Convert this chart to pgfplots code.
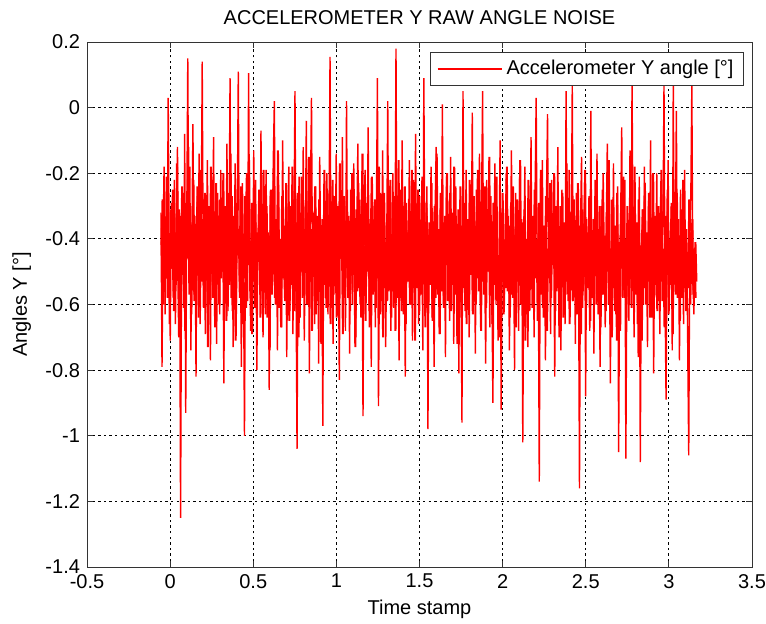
\documentclass[border=0pt]{standalone}
\usepackage{fontspec}
\setmainfont{Liberation Sans}
\usepackage{pgfplots}
\usepackage{pgfplotstable}
\pgfplotsset{compat=1.18}
\pgfplotstableread[row sep=\\]{
y \\
-0.32 \\ -0.79 \\ -0.41 \\ -0.18 \\ -0.63 \\ -0.35 \\ -0.52 \\ 0.03 \\ -0.47 \\ -0.71 \\ -0.29 \\ -0.44 \\ -0.58 \\ -0.22 \\ -0.66 \\ -0.39 \\ -0.12 \\ -0.55 \\ -0.31 \\ -1.25 \\
-0.43 \\ -0.26 \\ -0.61 \\ -0.08 \\ -0.93 \\ -0.35 \\ 0.15 \\ -0.52 \\ -0.18 \\ -0.74 \\ -0.40 \\ -0.05 \\ -0.57 \\ -0.33 \\ -0.82 \\ -0.24 \\ -0.49 \\ -0.14 \\ -0.66 \\ -0.37 \\
0.14 \\ -0.51 \\ -0.28 \\ -0.69 \\ -0.42 \\ -0.16 \\ -0.60 \\ -0.34 \\ -0.77 \\ -0.21 \\ -0.47 \\ -0.09 \\ -0.56 \\ -0.38 \\ -0.72 \\ -0.26 \\ -0.45 \\ -0.63 \\ -0.19 \\ -0.50 \\
-0.36 \\ -0.84 \\ -0.30 \\ -0.54 \\ -0.11 \\ -0.62 \\ -0.41 \\ 0.09 \\ -0.58 \\ -0.27 \\ -0.73 \\ -0.44 \\ -0.17 \\ -0.65 \\ -0.33 \\ 0.11 \\ -0.53 \\ -0.40 \\ -0.79 \\ -0.23 \\
-0.48 \\ -1.00 \\ -0.37 \\ -0.20 \\ -0.59 \\ 0.105 \\ -0.46 \\ -0.68 \\ -0.29 \\ -0.52 \\ -0.13 \\ -0.61 \\ -0.35 \\ -0.80 \\ -0.42 \\ -0.25 \\ -0.57 \\ -0.07 \\ -0.49 \\ -0.70 \\
-0.31 \\ -0.45 \\ -0.19 \\ -0.64 \\ -0.38 \\ -0.86 \\ -0.27 \\ -0.55 \\ -0.41 \\ -0.15 \\ 0.02 \\ -0.60 \\ -0.34 \\ -0.74 \\ -0.22 \\ -0.50 \\ -0.43 \\ -0.67 \\ -0.10 \\ -0.46 \\
-0.58 \\ -0.30 \\ -0.76 \\ -0.39 \\ -0.18 \\ -0.62 \\ -0.47 \\ -0.26 \\ -0.69 \\ -0.35 \\ 0.05 \\ -0.53 \\ -1.04 \\ -0.40 \\ -0.21 \\ -0.64 \\ -0.32 \\ -0.49 \\ -0.12 \\ -0.71 \\
-0.44 \\ -0.04 \\ -0.57 \\ -0.36 \\ -0.81 \\ -0.28 \\ 0.03 \\ -0.51 \\ -0.42 \\ -0.66 \\ -0.24 \\ -0.59 \\ -0.33 \\ -0.78 \\ -0.15 \\ -0.48 \\ -0.37 \\ -0.97 \\ -0.29 \\ -0.54 \\
-0.41 \\ -0.20 \\ -0.63 \\ -0.35 \\ 0.155 \\ -0.56 \\ -0.45 \\ -0.72 \\ -0.27 \\ -0.50 \\ -0.14 \\ -0.61 \\ -0.38 \\ -0.83 \\ -0.31 \\ -0.46 \\ -0.09 \\ -0.58 \\ -0.40 \\ -0.68 \\
0.02 \\ -0.52 \\ -0.33 \\ -0.75 \\ -0.25 \\ -0.47 \\ -0.60 \\ -0.17 \\ -0.43 \\ -0.70 \\ -0.36 \\ -0.11 \\ -0.55 \\ -0.28 \\ -0.64 \\ -0.39 \\ -0.94 \\ -0.32 \\ -0.19 \\ -0.57 \\
-0.44 \\ -0.06 \\ -0.62 \\ -0.37 \\ -0.79 \\ -0.23 \\ -0.51 \\ -0.41 \\ -0.67 \\ -0.30 \\ 0.09 \\ -0.91 \\ -0.46 \\ -0.26 \\ -0.59 \\ -0.13 \\ -0.53 \\ -0.35 \\ -0.73 \\ -0.42 \\
0.02 \\ -0.56 \\ -0.31 \\ -0.68 \\ -0.40 \\ -0.20 \\ -0.61 \\ -0.47 \\ 0.18 \\ -0.58 \\ -0.34 \\ -0.77 \\ -0.25 \\ -0.49 \\ -0.10 \\ -0.63 \\ -0.38 \\ -0.82 \\ -0.29 \\ -0.52 \\
-0.43 \\ -0.16 \\ -0.60 \\ -0.36 \\ -0.71 \\ -0.22 \\ -0.48 \\ -0.08 \\ -0.55 \\ -0.40 \\ -0.66 \\ -0.27 \\ -0.50 \\ -0.33 \\ -0.74 \\ 0.09 \\ -0.45 \\ -0.61 \\ -0.24 \\ -0.98 \\
-0.37 \\ -0.52 \\ -0.18 \\ -0.64 \\ -0.41 \\ -0.79 \\ -0.30 \\ -0.12 \\ -0.57 \\ -0.44 \\ -0.69 \\ -0.26 \\ -0.53 \\ 0.01 \\ -0.60 \\ -0.35 \\ -0.76 \\ -0.21 \\ -0.47 \\ -0.39 \\
-0.65 \\ -0.15 \\ -0.54 \\ -0.32 \\ -0.72 \\ -0.43 \\ -0.24 \\ -0.59 \\ -0.37 \\ -0.81 \\ -0.28 \\ -0.50 \\ -0.96 \\ 0.05 \\ -0.46 \\ -0.62 \\ -0.19 \\ -0.55 \\ -0.40 \\ -0.70 \\
-0.33 \\ -0.48 \\ -0.015 \\ -0.58 \\ -0.36 \\ -0.75 \\ -0.25 \\ -0.52 \\ -0.42 \\ -0.14 \\ -0.63 \\ -0.30 \\ 0.05 \\ -0.57 \\ -0.45 \\ -0.78 \\ -0.22 \\ -0.49 \\ -0.38 \\ -0.67 \\
-0.27 \\ -0.54 \\ -0.90 \\ -0.41 \\ -0.17 \\ -0.60 \\ -0.35 \\ -0.71 \\ -0.44 \\ -0.10 \\ -0.92 \\ -0.48 \\ -0.29 \\ -0.62 \\ -0.39 \\ -0.20 \\ -0.56 \\ -0.33 \\ -0.74 \\ -0.46 \\
-0.13 \\ -0.58 \\ -0.37 \\ -0.80 \\ -0.26 \\ -0.51 \\ -0.42 \\ -0.68 \\ -0.21 \\ -0.55 \\ -0.34 \\ -1.02 \\ -0.45 \\ -0.18 \\ -0.63 \\ -0.40 \\ -0.73 \\ -0.28 \\ -0.50 \\ -0.09 \\
-0.61 \\ -0.38 \\ -0.70 \\ -0.24 \\ 0.03 \\ -0.53 \\ -0.43 \\ -1.14 \\ -0.31 \\ -0.57 \\ -0.16 \\ -0.64 \\ -0.36 \\ -0.77 \\ -0.27 \\ -0.02 \\ -0.52 \\ -0.45 \\ -0.69 \\ -0.22 \\
-0.48 \\ -0.39 \\ -0.82 \\ -0.30 \\ -0.56 \\ -0.12 \\ -0.62 \\ -0.41 \\ -0.74 \\ -0.25 \\ -0.51 \\ -0.35 \\ -0.66 \\ 0.05 \\ -0.47 \\ -0.59 \\ -0.19 \\ -0.54 \\ -0.42 \\ 0.07 \\
-0.58 \\ -0.33 \\ -0.72 \\ -0.26 \\ -0.49 \\ -0.40 \\ -1.16 \\ -0.37 \\ -0.15 \\ -0.61 \\ -0.44 \\ -0.23 \\ -0.88 \\ -0.34 \\ -0.55 \\ -0.46 \\ -0.68 \\ -0.01 \\ -0.52 \\ -0.38 \\
-0.75 \\ -0.27 \\ -0.50 \\ -0.14 \\ -0.63 \\ -0.41 \\ -0.79 \\ -0.30 \\ -0.57 \\ -0.20 \\ -0.45 \\ -0.67 \\ -0.36 \\ -0.11 \\ -0.60 \\ -0.43 \\ -0.84 \\ -0.28 \\ -0.53 \\ -0.17 \\
-0.62 \\ -0.39 \\ -0.71 \\ -0.24 \\ -1.05 \\ -0.46 \\ -0.32 \\ -0.06 \\ -0.58 \\ -0.41 \\ -0.22 \\ -1.07 \\ -0.49 \\ -0.35 \\ -0.65 \\ -0.13 \\ -0.55 \\ 0.08 \\ -0.44 \\ -0.70 \\
-0.29 \\ -0.52 \\ -0.37 \\ -0.76 \\ -0.21 \\ -1.08 \\ -0.47 \\ -0.31 \\ -0.60 \\ -0.18 \\ -0.54 \\ -0.42 \\ -0.73 \\ -0.26 \\ -0.50 \\ -0.10 \\ -0.64 \\ -0.38 \\ -0.81 \\ -0.33 \\
-0.48 \\ -0.20 \\ -0.59 \\ -0.43 \\ -0.69 \\ -0.27 \\ -0.53 \\ -0.36 \\ 0.07 \\ -0.57 \\ -0.89 \\ -0.40 \\ -0.16 \\ -0.62 \\ -0.45 \\ -0.30 \\ -0.74 \\ 0.08 \\ -0.51 \\ -0.39 \\
-0.01 \\ -0.58 \\ -0.34 \\ -0.77 \\ -0.25 \\ -0.49 \\ -0.43 \\ -0.66 \\ -0.19 \\ -0.55 \\ -0.37 \\ -0.72 \\ -1.06 \\ -0.41 \\ -0.28 \\ 0.07 \\ -0.52 \\ -0.63 \\ -0.46 \\ -0.58 \\
}\noisetable
\pgfplotstableread[row sep=\\]{
y \\
-0.45 \\ -0.28 \\ -0.60 \\ -0.36 \\ -0.52 \\ -0.21 \\ -0.58 \\ -0.40 \\ -0.66 \\ -0.31 \\ -0.49 \\ -0.25 \\ -0.62 \\ -0.38 \\ -0.54 \\ -0.17 \\ -0.47 \\ -0.70 \\ -0.33 \\ -0.56 \\
-0.24 \\ -0.51 \\ -0.39 \\ -0.68 \\ -0.29 \\ -0.46 \\ -0.12 \\ -0.57 \\ -0.35 \\ -0.63 \\ -0.42 \\ -0.22 \\ -0.59 \\ -0.37 \\ -0.50 \\ -0.27 \\ -0.64 \\ -0.41 \\ -0.19 \\ -0.53 \\
-0.34 \\ -0.61 \\ -0.26 \\ -0.48 \\ -0.40 \\ -0.73 \\ -0.30 \\ -0.55 \\ -0.18 \\ -0.44 \\ -0.58 \\ -0.32 \\ -0.67 \\ -0.23 \\ -0.49 \\ -0.38 \\ -0.60 \\ -0.28 \\ -0.52 \\ -0.43 \\
-0.20 \\ -0.57 \\ -0.36 \\ -0.65 \\ -0.41 \\ -0.26 \\ -0.54 \\ -0.14 \\ -0.47 \\ -0.62 \\ -0.33 \\ -0.50 \\ -0.71 \\ -0.29 \\ -0.45 \\ -0.37 \\ -0.58 \\ -0.24 \\ -0.66 \\ -0.39 \\
-0.52 \\ -0.27 \\ -0.61 \\ -0.35 \\ -0.48 \\ -0.16 \\ -0.56 \\ -0.42 \\ -0.69 \\ -0.31 \\ -0.53 \\ -0.22 \\ -0.60 \\ -0.38 \\ -0.47 \\ -0.28 \\ -0.64 \\ -0.36 \\ -0.55 \\ -0.19 \\
-0.44 \\ -0.63 \\ -0.30 \\ -0.51 \\ -0.39 \\ -0.74 \\ -0.25 \\ -0.57 \\ -0.43 \\ -0.20 \\ -0.58 \\ -0.34 \\ -0.49 \\ -0.13 \\ -0.61 \\ -0.40 \\ -0.67 \\ -0.27 \\ -0.52 \\ -0.36 \\
-0.59 \\ -0.23 \\ -0.46 \\ -0.38 \\ -0.65 \\ -0.30 \\ -0.54 \\ -0.18 \\ -0.48 \\ -0.62 \\ -0.35 \\ -0.56 \\ -0.26 \\ -0.70 \\ -0.41 \\ -0.50 \\ -0.21 \\ -0.58 \\ -0.37 \\ -0.45 \\
-0.29 \\ -0.60 \\ -0.42 \\ -0.15 \\ -0.53 \\ -0.37 \\ -0.68 \\ -0.32 \\ -0.47 \\ -0.24 \\ -0.63 \\ -0.40 \\ -0.55 \\ -0.28 \\ -0.49 \\ -0.72 \\ -0.34 \\ -0.58 \\ -0.19 \\ -0.44 \\
-0.61 \\ -0.36 \\ -0.52 \\ -0.26 \\ -0.66 \\ -0.41 \\ -0.22 \\ -0.57 \\ -0.33 \\ -0.48 \\ -0.64 \\ -0.30 \\ -0.54 \\ -0.17 \\ -0.46 \\ -0.39 \\ -0.69 \\ -0.27 \\ -0.55 \\ -0.43 \\
-0.25 \\ -0.58 \\ -0.35 \\ -0.62 \\ -0.44 \\ -0.20 \\ -0.51 \\ -0.38 \\ -0.73 \\ -0.31 \\ -0.56 \\ -0.23 \\ -0.47 \\ -0.60 \\ -0.36 \\ -0.14 \\ -0.53 \\ -0.42 \\ -0.65 \\ -0.29 \\
-0.50 \\ -0.34 \\ -0.67 \\ -0.40 \\ -0.21 \\ -0.57 \\ -0.45 \\ -0.28 \\ -0.61 \\ -0.37 \\ -0.52 \\ -0.18 \\ -0.63 \\ -0.33 \\ -0.48 \\ -0.70 \\ -0.26 \\ -0.55 \\ -0.41 \\ -0.59 \\
-0.31 \\ -0.46 \\ -0.22 \\ -0.64 \\ -0.39 \\ -0.56 \\ -0.27 \\ -0.68 \\ -0.35 \\ -0.50 \\ -0.16 \\ -0.58 \\ -0.43 \\ -0.62 \\ -0.30 \\ -0.47 \\ -0.24 \\ -0.66 \\ -0.38 \\ -0.53 \\
-0.28 \\ -0.60 \\ -0.41 \\ -0.19 \\ -0.55 \\ -0.36 \\ -0.71 \\ -0.32 \\ -0.49 \\ -0.25 \\ -0.63 \\ -0.44 \\ -0.57 \\ -0.21 \\ -0.52 \\ -0.39 \\ -0.67 \\ -0.29 \\ -0.46 \\ -0.60 \\
-0.35 \\ -0.54 \\ -0.23 \\ -0.65 \\ -0.42 \\ -0.30 \\ -0.58 \\ -0.14 \\ -0.50 \\ -0.37 \\ -0.69 \\ -0.27 \\ -0.56 \\ -0.40 \\ -0.61 \\ -0.33 \\ -0.48 \\ -0.20 \\ -0.59 \\ -0.44 \\
-0.26 \\ -0.62 \\ -0.38 \\ -0.52 \\ -0.18 \\ -0.57 \\ -0.41 \\ -0.72 \\ -0.31 \\ -0.49 \\ -0.24 \\ -0.64 \\ -0.36 \\ -0.55 \\ -0.29 \\ -0.47 \\ -0.66 \\ -0.34 \\ -0.58 \\ -0.22 \\
-0.51 \\ -0.37 \\ -0.63 \\ -0.27 \\ -0.45 \\ -0.60 \\ -0.33 \\ -0.19 \\ -0.56 \\ -0.40 \\ -0.68 \\ -0.30 \\ -0.53 \\ -0.42 \\ -0.24 \\ -0.61 \\ -0.35 \\ -0.50 \\ -0.15 \\ -0.57 \\
-0.43 \\ -0.66 \\ -0.29 \\ -0.54 \\ -0.38 \\ -0.21 \\ -0.59 \\ -0.46 \\ -0.70 \\ -0.32 \\ -0.52 \\ -0.26 \\ -0.63 \\ -0.41 \\ -0.55 \\ -0.18 \\ -0.48 \\ -0.36 \\ -0.64 \\ -0.30 \\
-0.57 \\ -0.24 \\ -0.49 \\ -0.39 \\ -0.67 \\ -0.28 \\ -0.53 \\ -0.44 \\ -0.16 \\ -0.60 \\ -0.35 \\ -0.58 \\ -0.31 \\ -0.71 \\ -0.42 \\ -0.50 \\ -0.22 \\ -0.62 \\ -0.37 \\ -0.47 \\
-0.33 \\ -0.59 \\ -0.25 \\ -0.52 \\ -0.40 \\ -0.65 \\ -0.29 \\ -0.56 \\ -0.19 \\ -0.48 \\ -0.61 \\ -0.36 \\ -0.54 \\ -0.27 \\ -0.68 \\ -0.43 \\ -0.51 \\ -0.23 \\ -0.58 \\ -0.38 \\
-0.45 \\ -0.20 \\ -0.62 \\ -0.34 \\ -0.55 \\ -0.41 \\ -0.70 \\ -0.30 \\ -0.49 \\ -0.26 \\ -0.64 \\ -0.37 \\ -0.57 \\ -0.17 \\ -0.53 \\ -0.40 \\ -0.66 \\ -0.32 \\ -0.47 \\ -0.59 \\
-0.28 \\ -0.54 \\ -0.42 \\ -0.63 \\ -0.23 \\ -0.50 \\ -0.36 \\ -0.69 \\ -0.31 \\ -0.56 \\ -0.45 \\ -0.19 \\ -0.61 \\ -0.38 \\ -0.52 \\ -0.27 \\ -0.65 \\ -0.41 \\ -0.58 \\ -0.34 \\
-0.48 \\ -0.22 \\ -0.60 \\ -0.37 \\ -0.53 \\ -0.30 \\ -0.67 \\ -0.43 \\ -0.25 \\ -0.57 \\ -0.39 \\ -0.62 \\ -0.32 \\ -0.50 \\ -0.16 \\ -0.59 \\ -0.44 \\ -0.70 \\ -0.29 \\ -0.55 \\
-0.36 \\ -0.63 \\ -0.26 \\ -0.51 \\ -0.41 \\ -0.68 \\ -0.33 \\ -0.47 \\ -0.21 \\ -0.58 \\ -0.40 \\ -0.64 \\ -0.30 \\ -0.54 \\ -0.45 \\ -0.24 \\ -0.61 \\ -0.37 \\ -0.52 \\ -0.18 \\
-0.57 \\ -0.35 \\ -0.66 \\ -0.28 \\ -0.49 \\ -0.42 \\ -0.71 \\ -0.31 \\ -0.55 \\ -0.23 \\ -0.60 \\ -0.38 \\ -0.53 \\ -0.27 \\ -0.64 \\ -0.44 \\ -0.50 \\ -0.20 \\ -0.58 \\ -0.36 \\
-0.47 \\ -0.62 \\ -0.30 \\ -0.56 \\ -0.39 \\ -0.19 \\ -0.59 \\ -0.43 \\ -0.67 \\ -0.33 \\ -0.51 \\ -0.25 \\ -0.63 \\ -0.40 \\ -0.54 \\ -0.29 \\ -0.69 \\ -0.35 \\ -0.48 \\ -0.57 \\
-0.26 \\ -0.52 \\ -0.41 \\ -0.65 \\ -0.31 \\ -0.58 \\ -0.22 \\ -0.49 \\ -0.37 \\ -0.62 \\ -0.44 \\ -0.55 \\ -0.28 \\ -0.60 \\ -0.46 \\ -0.34 \\ -0.57 \\ -0.50 \\ -0.41 \\ -0.53 \\
}\coretable
\begin{document}
\begin{tikzpicture}
\begin{axis}[
  name=ax,
  scale only axis,
  width=332.5pt, height=262.5pt,
  xmin=-0.5, xmax=3.5, ymin=-1.4, ymax=0.2,
  xtick={-0.5,0,...,3.5},
  ytick={-1.4,-1.2,...,0.2},
  xticklabels={-0.5,0,0.5,1,1.5,2,2.5,3,3.5},
  yticklabels={-1.4,-1.2,-1,-0.8,-0.6,-0.4,-0.2,0,0.2},
  /pgf/number format/assume math mode=true,
  tick align=inside,
  major tick length=3pt,
  tick style={black!80, line width=0.5pt},
  axis line style={black!80, line width=0.5pt},
  grid=major,
  major grid style={black, line width=0.5pt, dash pattern=on 1.2pt off 1.6pt},
  font=\fontsize{10}{12}\selectfont,
  tick label style={font=\fontsize{10}{12}\selectfont, text=black},
  title={ACCELEROMETER Y RAW ANGLE NOISE},
  title style={at={(axis description cs:0.5,1.0229)}, anchor=center, font=\fontsize{10}{12}\selectfont},
  xlabel={Time stamp},
  xlabel style={at={(axis description cs:0.5,-0.08)}, anchor=center},
  ylabel={Angles Y [°]},
  ylabel style={at={(axis description cs:-0.098,0.5)}, anchor=center},
  legend style={at={(0.988,0.981)}, anchor=north east, draw=black!80, line width=0.5pt,
    font=\fontsize{10}{12}\selectfont, inner ysep=2pt, inner xsep=3pt},
  legend cell align=left,
  legend image code/.code={\draw[#1, line width=1pt] (0pt,0pt) -- (32pt,0pt);},
]
\addplot[red, line width=0.7pt, line join=bevel] table[x expr={-0.055+\coordindex*0.0062}, y=y] {\noisetable};
\addlegendentry{Accelerometer Y angle [°]}
\addplot[red, line width=1pt, line join=bevel, forget plot] table[x expr={-0.0519+\coordindex*0.0062}, y=y] {\coretable};
\end{axis}
\pgfresetboundingbox
\useasboundingbox ([xshift=-43.5pt,yshift=-28pt]ax.south west) rectangle ([xshift=7pt,yshift=21pt]ax.north east);
\end{tikzpicture}
\end{document}
